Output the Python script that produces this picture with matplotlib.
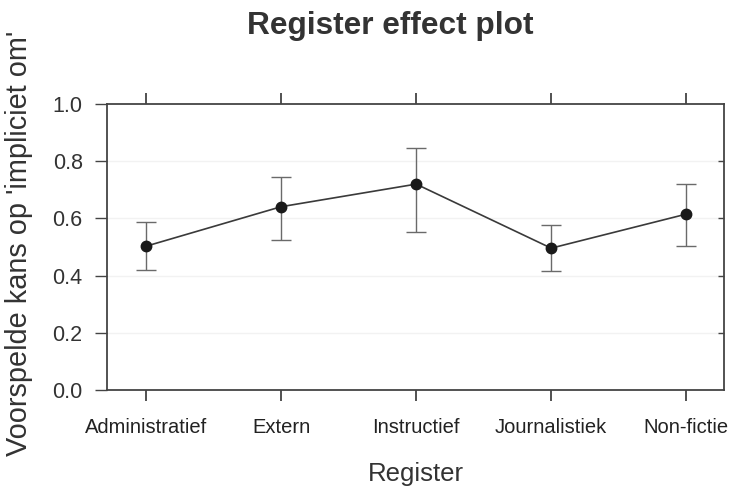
import matplotlib
matplotlib.use('Agg')
import matplotlib.pyplot as plt

plt.rcParams['font.family'] = ['Liberation Sans', 'DejaVu Sans']

# data
registers = ['Administratief', 'Extern', 'Instructief', 'Journalistiek', 'Non-fictie']
fit = [0.503, 0.641, 0.720, 0.496, 0.615]
lower = [0.419, 0.523, 0.551, 0.416, 0.503]
upper = [0.586, 0.745, 0.846, 0.577, 0.721]
yticks = [0.0, 0.2, 0.4, 0.6, 0.8, 1.0]

fig = plt.figure(figsize=(7.31, 4.88), dpi=100)
ax = fig.add_axes([0.1464, 0.2008, 0.844, 0.586])

x = list(range(len(registers)))
yerr = [[f - l for f, l in zip(fit, lower)], [u - f for f, u in zip(fit, upper)]]

# faint lattice-style grid
for yv in yticks[1:-1]:
    ax.axhline(yv, color='#f2f2f2', lw=1.0, zorder=0)

ax.errorbar(x, fit, yerr=yerr, fmt='none', ecolor='#6a6a6a', elinewidth=1.0,
            capsize=7.5, capthick=1.0, zorder=2)
ax.plot(x, fit, color='#3a3a3a', lw=1.2, marker='o', markersize=7.5,
        markerfacecolor='#1a1a1a', markeredgecolor='#1a1a1a', zorder=3)

ax.set_xlim(-0.29, 4.28)
ax.set_ylim(0, 1.0)
ax.set_xticks(x)
ax.set_xticklabels(registers, fontsize=14.5, color='#222222')
ax.set_yticks(yticks)
ax.set_yticklabels(['%.1f' % v for v in yticks], fontsize=15.5, color='#333333')

ax.tick_params(axis='x', top=True, bottom=True, direction='out',
               length=8, width=1.2, color='#333333', pad=12.5)
ax.tick_params(axis='y', left=True, right=False, direction='out', length=8.5,
               width=1.0, color='#444444', pad=9)

# right side ticks point inward, no labels
sec = ax.secondary_yaxis('right')
sec.set_yticks(yticks[1:-1])
sec.tick_params(axis='y', direction='in', length=4.5, width=1.0,
                color='#444444', labelright=False)
sec.spines['right'].set_visible(False)

for s in ax.spines.values():
    s.set_color('#444444')
    s.set_linewidth(1.3)

ax.set_xlabel('Register', fontsize=18.5, color='#333333', labelpad=17.5)
fig.text(0.026, 0.501, "Voorspelde kans op 'impliciet om'", rotation=90,
         fontsize=20.8, color='#333333', ha='center', va='center')
fig.text(0.534, 0.946, 'Register effect plot', fontsize=22.8, fontweight='bold',
         color='#333333', ha='center', va='center')

fig.savefig('out.png', dpi=100)
